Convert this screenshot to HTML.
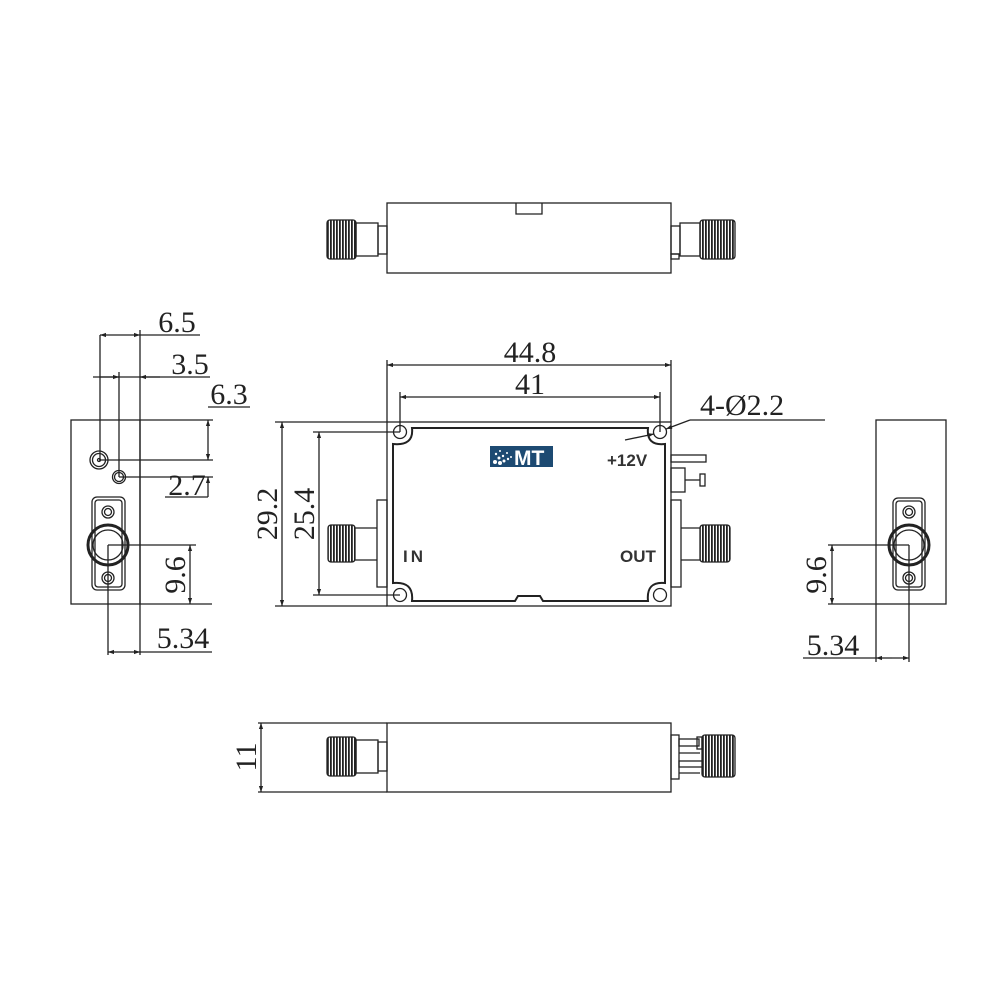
<!DOCTYPE html>
<html><head><meta charset="utf-8"><style>
html,body{margin:0;padding:0;background:#fff;width:1000px;height:1000px;overflow:hidden}
svg{display:block}
.s{font-family:"Liberation Serif",serif;fill:#222}
.b{font-family:"Liberation Sans",sans-serif;font-weight:bold}
</style></head><body>
<svg width="1000" height="1000" viewBox="0 0 1000 1000" xmlns="http://www.w3.org/2000/svg">
<defs>
<marker id="a" viewBox="0 0 10 10" refX="10" refY="5" markerWidth="9" markerHeight="6" orient="auto-start-reverse" markerUnits="userSpaceOnUse"><path d="M0,1.5 L10,5 L0,8.5 z" fill="#222"/></marker>
<pattern id="th" width="3" height="10" patternUnits="userSpaceOnUse"><rect width="3" height="10" fill="#fff"/><rect width="1.8" height="10" fill="#222"/></pattern>
</defs>
<g stroke="#222" stroke-width="1.3" fill="none">
<!-- TOP VIEW -->
<rect x="387" y="203" width="284" height="70"/>
<path d="M516,203 V214 H542 V203"/>
<rect x="327" y="220" width="29" height="39" rx="3" fill="url(#th)"/>
<rect x="356" y="223" width="22" height="33"/>
<rect x="378" y="226" width="9" height="28"/>
<rect x="671" y="226" width="9" height="28"/>
<rect x="671" y="254" width="8" height="5"/>
<rect x="680" y="223" width="20" height="33"/>
<rect x="700" y="220" width="35" height="39" rx="3" fill="url(#th)"/>

<!-- MAIN VIEW -->
<rect x="387" y="422" width="284" height="184"/>
<path d="M412,428 H648 Q646,446 665,444 V583 Q646,581 648,601 H543 L540,596 H518 L515,601 H412 Q414,581 393,583 V444 Q414,446 412,428 Z" stroke-width="2"/>
<circle cx="400" cy="432" r="6.5"/><circle cx="660" cy="432" r="6.5"/>
<circle cx="400" cy="595" r="6.5"/><circle cx="660" cy="595" r="6.5"/>
<rect x="377" y="500" width="10" height="87"/>
<path d="M355,528 H377 M355,560 H377"/>
<rect x="328" y="525" width="27" height="37" rx="3" fill="url(#th)"/>
<rect x="671" y="500" width="10" height="87"/>
<path d="M681,528 H700 M681,560 H700"/>
<rect x="700" y="525" width="30" height="37" rx="3" fill="url(#th)"/>
<rect x="671" y="455" width="35" height="7"/>
<rect x="671" y="468" width="14" height="24"/>
<path d="M685,480 H700"/><rect x="700" y="474" width="5" height="12"/>

<!-- dims main -->
<path d="M387,360 V422 M671,360 V422 M400,392 V432 M660,392 V432"/>
<line x1="387" y1="365" x2="671" y2="365" marker-start="url(#a)" marker-end="url(#a)"/>
<line x1="400" y1="397" x2="660" y2="397" marker-start="url(#a)" marker-end="url(#a)"/>
<path d="M275,422 H387 M275,606 H387 M313,432 H400 M313,595 H400"/>
<line x1="282" y1="422" x2="282" y2="606" marker-start="url(#a)" marker-end="url(#a)"/>
<line x1="319" y1="432" x2="319" y2="595" marker-start="url(#a)" marker-end="url(#a)"/>
<path d="M690,420 H825"/>
<line x1="690" y1="420" x2="666" y2="429" marker-end="url(#a)"/>
<line x1="625" y1="440" x2="654" y2="434" marker-end="url(#a)"/>

<!-- LEFT VIEW -->
<rect x="71" y="420" width="69" height="184"/>
<circle cx="99" cy="460" r="9"/><circle cx="99" cy="460" r="6.5"/><circle cx="99" cy="460" r="1.5"/>
<circle cx="119" cy="477" r="6.5"/><circle cx="119" cy="477" r="4.5"/>
<rect x="92" y="497" width="33" height="93" rx="5"/><rect x="95" y="500" width="27" height="87" rx="3"/>
<circle cx="108" cy="545" r="20" stroke-width="3"/><circle cx="108" cy="545" r="15"/>
<circle cx="108" cy="512" r="6"/><circle cx="108" cy="512" r="3.5"/>
<circle cx="108" cy="578" r="6"/><circle cx="108" cy="578" r="3.5"/>
<path d="M100,335 V460 M119,372 V477 M140,330 V655"/>
<path d="M140,335 H200"/>
<line x1="120" y1="335" x2="100" y2="335" marker-end="url(#a)"/>
<line x1="120" y1="335" x2="140" y2="335" marker-end="url(#a)"/>
<path d="M93,377 H210"/>
<line x1="100" y1="377" x2="119" y2="377" marker-end="url(#a)"/>
<line x1="160" y1="377" x2="140" y2="377" marker-end="url(#a)"/>
<path d="M140,420 H213 M99,460 H213 M119,477 H213 M208,407 H250 M165,497 H208"/>
<line x1="208" y1="440" x2="208" y2="420" marker-end="url(#a)"/>
<line x1="208" y1="440" x2="208" y2="460" marker-end="url(#a)"/>
<line x1="208" y1="497" x2="208" y2="477" marker-end="url(#a)"/>
<path d="M108,545 V655 M108,545 H196 M140,604 H212"/>
<line x1="190" y1="545" x2="190" y2="604" marker-start="url(#a)" marker-end="url(#a)"/>
<path d="M140,652 H212"/>
<line x1="124" y1="652" x2="108" y2="652" marker-end="url(#a)"/>
<line x1="124" y1="652" x2="140" y2="652" marker-end="url(#a)"/>

<!-- RIGHT VIEW -->
<rect x="876" y="420" width="70" height="184"/>
<rect x="893" y="498" width="32" height="92" rx="5"/><rect x="896" y="501" width="26" height="86" rx="3"/>
<circle cx="909" cy="545" r="20" stroke-width="3"/><circle cx="909" cy="545" r="15"/>
<circle cx="909" cy="512" r="6"/><circle cx="909" cy="512" r="3.5"/>
<circle cx="909" cy="578" r="6"/><circle cx="909" cy="578" r="3.5"/>
<path d="M828,545 H909 M828,604 H876 M876,604 V662 M909,545 V662 M803,658 H876"/>
<line x1="832" y1="545" x2="832" y2="604" marker-start="url(#a)" marker-end="url(#a)"/>
<line x1="892" y1="658" x2="876" y2="658" marker-end="url(#a)"/>
<line x1="892" y1="658" x2="909" y2="658" marker-end="url(#a)"/>

<!-- BOTTOM VIEW -->
<rect x="387" y="723" width="284" height="69"/>
<path d="M258,723 H387 M258,792 H387"/>
<line x1="261" y1="723" x2="261" y2="792" marker-start="url(#a)" marker-end="url(#a)"/>
<rect x="327" y="737" width="29" height="39" rx="3" fill="url(#th)"/>
<rect x="356" y="740" width="22" height="33"/>
<rect x="378" y="742" width="9" height="29"/>
<rect x="671" y="735" width="8" height="44"/>
<rect x="679" y="739" width="20" height="7"/>
<rect x="679" y="761" width="25" height="6"/>
<path d="M679,753 H700 M679,773 H700"/>
<rect x="697" y="737" width="5" height="12"/>
<rect x="702" y="735" width="33" height="42" rx="3" fill="url(#th)"/>
</g>

<!-- logo -->
<rect x="490" y="446" width="63" height="21" fill="#1d4a72"/>
<g fill="#fff"><circle cx="495" cy="462" r="2"/><circle cx="500" cy="463" r="2"/><circle cx="499" cy="458" r="1.5"/><circle cx="504" cy="461" r="1.5"/><circle cx="496" cy="454" r="1.2"/><circle cx="503" cy="456" r="1.2"/><circle cx="508" cy="459" r="1.2"/><circle cx="500" cy="451" r="1"/><circle cx="507" cy="453" r="1"/><circle cx="511" cy="457" r="1"/></g>
<text x="514" y="465" class="b" font-size="21" fill="#fff">MT</text>

<g class="s" font-size="30">
<text x="530" y="362" text-anchor="middle">44.8</text>
<text x="530" y="394" text-anchor="middle">41</text>
<text x="700" y="415">4-Ø2.2</text>
<text transform="translate(277,514) rotate(-90)" text-anchor="middle">29.2</text>
<text transform="translate(314,514) rotate(-90)" text-anchor="middle">25.4</text>
<text x="177" y="332" text-anchor="middle">6.5</text>
<text x="190" y="374" text-anchor="middle">3.5</text>
<text x="229" y="404" text-anchor="middle">6.3</text>
<text x="187" y="495" text-anchor="middle">2.7</text>
<text transform="translate(185,575) rotate(-90)" text-anchor="middle">9.6</text>
<text x="183" y="648" text-anchor="middle">5.34</text>
<text transform="translate(826,575) rotate(-90)" text-anchor="middle">9.6</text>
<text x="833" y="655" text-anchor="middle">5.34</text>
<text transform="translate(256,757) rotate(-90)" text-anchor="middle">11</text>
</g>
<g class="b" font-size="17" fill="#333">
<text x="607" y="466">+12V</text>
<text x="403" y="562" letter-spacing="3">IN</text>
<text x="620" y="562">OUT</text>
</g>
</svg>
</body></html>
